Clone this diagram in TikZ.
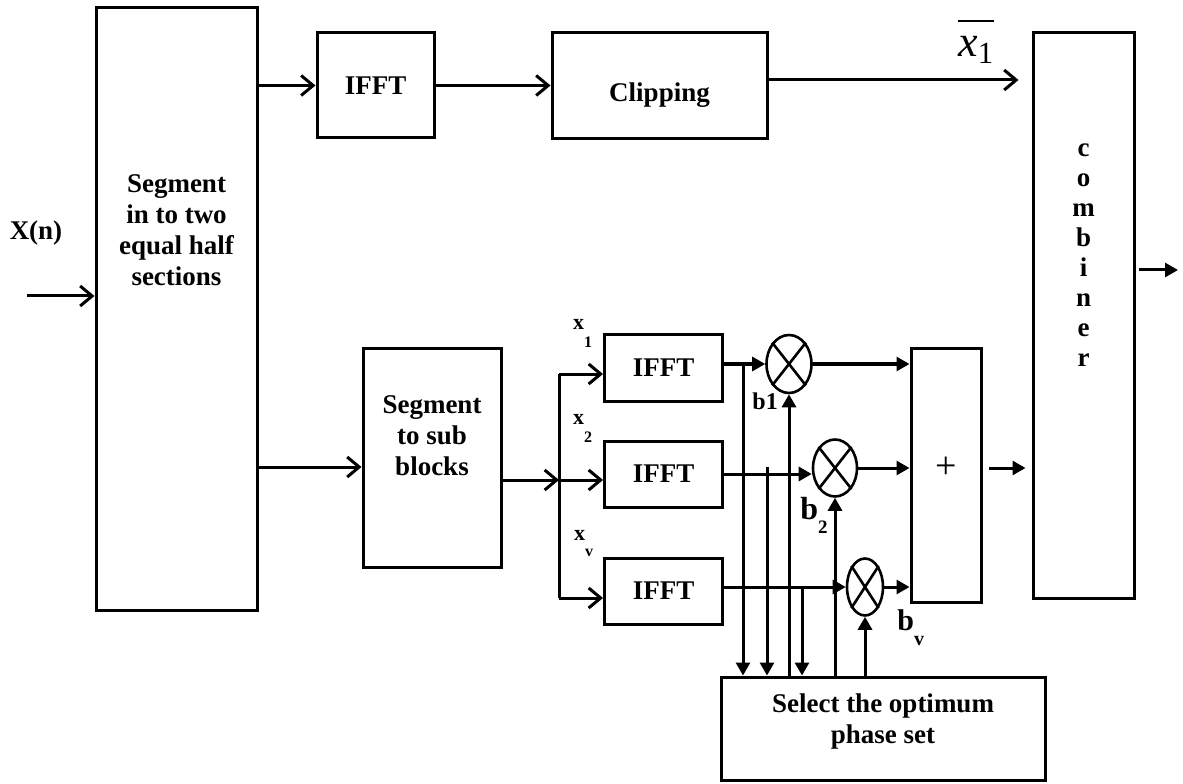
\documentclass[tikz,border=0pt]{standalone}
\usepackage{fontspec}
\setmainfont{Liberation Serif}
\usepackage{amsmath}
\usetikzlibrary{calc}
\usetikzlibrary{arrows.meta}
\usetikzlibrary{shapes.geometric}

\tikzset{
  blk/.style = {draw, line width = 1.5pt, inner sep = 0pt},
  txt/.style = {font = \fontsize{13.5}{15.5}\selectfont\bfseries, align = center},
  mul/.style = {draw, ellipse, line width = 1.3pt, inner sep = 0pt},
  open/.style = {line width = 1.5pt, -{Straight Barb[length = 6pt, width = 10pt]}},
  flow/.style = {line width = 1.5pt, -{Triangle[length = 6.5pt, width = 7pt]}}
}

\begin{document}
\begin{tikzpicture}[x = 0.5pt, y = 0.5pt]
  \useasboundingbox (0,0) rectangle (1183,783);

% blocks
  \node[blk, minimum width = 80.5pt, minimum height = 301pt] (seg) at (176.5,474) {};
  \node[txt] (segtxt) at (176.5,553) {Segment\\in to two\\equal half\\sections};
  \node[blk, txt, minimum width = 58.5pt, minimum height = 52.5pt] (ifftA) at (375.5,697.5) {IFFT};
  \node[blk, minimum width = 107.5pt, minimum height = 53pt] (clip) at (659.5,697) {};
  \node[txt] (cliptxt) at (659.5,688) {Clipping};
  \node[blk, minimum width = 50.5pt, minimum height = 282.5pt] (comb) at (1083.5,467.5) {};
  \node[txt, font = \fontsize{13.5}{15}\selectfont\bfseries] (combtxt) at (1083.5,528) {c\\o\\m\\b\\i\\n\\e\\r};
  \node[blk, minimum width = 69pt, minimum height = 109pt] (sub) at (432,325) {};
  \node[txt] (subtxt) at (432,347) {Segment\\to sub\\blocks};
  \node[blk, txt, minimum width = 59pt, minimum height = 33pt] (ifft1) at (663.5,415) {IFFT};
  \node[blk, txt, minimum width = 59pt, minimum height = 33pt] (ifft2) at (663.5,309) {IFFT};
  \node[blk, txt, minimum width = 59pt, minimum height = 33pt] (ifft3) at (663.5,192) {IFFT};
  \node[blk, minimum width = 35pt, minimum height = 126.5pt] (plus) at (946,307.5) {};
  \node[blk, minimum width = 162pt, minimum height = 51.5pt] (sel) at (883,54.5) {};
  \node[txt] (seltxt) at (883,61) {Select the optimum\\phase set};

% multipliers
  \node[mul, minimum width = 22.5pt, minimum height = 29pt] (mul1) at (789,419) {};
  \node[mul, minimum width = 22pt, minimum height = 28.5pt] (mul2) at (835,315) {};
  \node[mul, minimum width = 18pt, minimum height = 28.5pt] (mul3) at (865,196) {};
  \foreach \m in {mul1, mul2, mul3} {
    \draw[line width = 1.3pt] (\m.north west) -- (\m.south east);
    \draw[line width = 1.3pt] (\m.north east) -- (\m.south west);
  }
  \node[font = \fontsize{19}{20}\selectfont] (plustxt) at (plus |- mul2) {+};

% input
  \coordinate (xin) at (27,487);
  \draw[open] (xin) -- (xin -| seg.west);
  \node[txt] (xn) at (36,550) {X(n)};

% upper half
  \draw[open] (seg.east |- ifftA.west) -- (ifftA.west);
  \draw[open] (ifftA.east) -- (ifftA.east -| clip.west);
  \draw[open, shorten > = 6.5pt] ($(clip.east)+(0,6)$) -- ($(clip.east -| comb.west)+(0,6)$);
  \node[anchor = base west, inner sep = 0pt] (xbar) at (958,726) {\fontsize{22}{24}\selectfont$\overline{\rule{0pt}{15pt}\textit{x}_{\textrm{1}}}$};

% lower half
  \coordinate (fork) at (559,303);
  \coordinate (br1) at (559,409);
  \coordinate (br3) at (559,185);
  \draw[open] (seg.east |- 0,316) -- (sub.west |- 0,316);
  \draw[open] (sub.east |- fork) -- (fork);
  \draw[line width = 1.5pt] (br1) -- (br3);
  \draw[open] (br1) -- (br1 -| ifft1.west);
  \draw[open] (fork) -- (fork -| ifft2.west);
  \draw[open] (br3) -- (br3 -| ifft3.west);
  \node[txt, anchor = base west, font = \fontsize{11}{13}\selectfont\bfseries] (lx1) at (566,453) {x\raisebox{-8.5pt}{\fontsize{8}{9}\selectfont 1}};
  \node[txt, anchor = base west, font = \fontsize{11}{13}\selectfont\bfseries] (lx2) at (566,358) {x\raisebox{-8.5pt}{\fontsize{8}{9}\selectfont 2}};
  \node[txt, anchor = base west, font = \fontsize{11}{13}\selectfont\bfseries] (lxv) at (567,243) {x\raisebox{-8pt}{\fontsize{8}{9}\selectfont v}};

% products
  \draw[flow] (ifft1.east |- mul1) -- (mul1.west);
  \draw[flow] (ifft2.east) -- (ifft2.east -| mul2.west);
  \draw[flow] (ifft3.east |- mul3) -- (mul3.west);
  \coordinate (tap1) at (743,419);
  \coordinate (tap2) at (767,316);
  \coordinate (tap3) at (802,196);
  \foreach \t in {tap1, tap2, tap3}
    \draw[flow] (\t) -- (\t |- sel.north);
  \draw[flow] (mul1.south |- sel.north) -- (mul1.south);
  \draw[flow] (mul2.south |- sel.north) -- (mul2.south);
  \draw[flow] (mul3.south |- sel.north) -- (mul3.south);
  \node[anchor = base west, inner sep = 0pt, font = \fontsize{12}{14}\selectfont\bfseries] (lb1) at (752,373) {b1};
  \node[anchor = base west, inner sep = 0pt, font = \fontsize{16}{18}\selectfont\bfseries] (lb2) at (800,264) {b\raisebox{-7pt}{\fontsize{9.5}{11}\selectfont 2}};
  \node[anchor = base west, inner sep = 0pt, font = \fontsize{15}{17}\selectfont\bfseries] (lbv) at (897,153) {b\raisebox{-7.5pt}{\fontsize{10}{11}\selectfont v}};

% sum and output
  \draw[flow] (mul1.east) -- (mul1.east -| plus.west);
  \draw[flow] (mul2.east) -- (mul2.east -| plus.west);
  \draw[flow] (mul3.east) -- (mul3.east -| plus.west);
  \draw[flow, shorten < = 3pt, shorten > = 3pt] (plus.east |- mul2) -- (comb.west |- mul2);
  \coordinate (yout) at (1178,513);
  \draw[flow, shorten < = 1.5pt] (comb.east |- yout) -- (yout);

\end{tikzpicture}
\end{document}
